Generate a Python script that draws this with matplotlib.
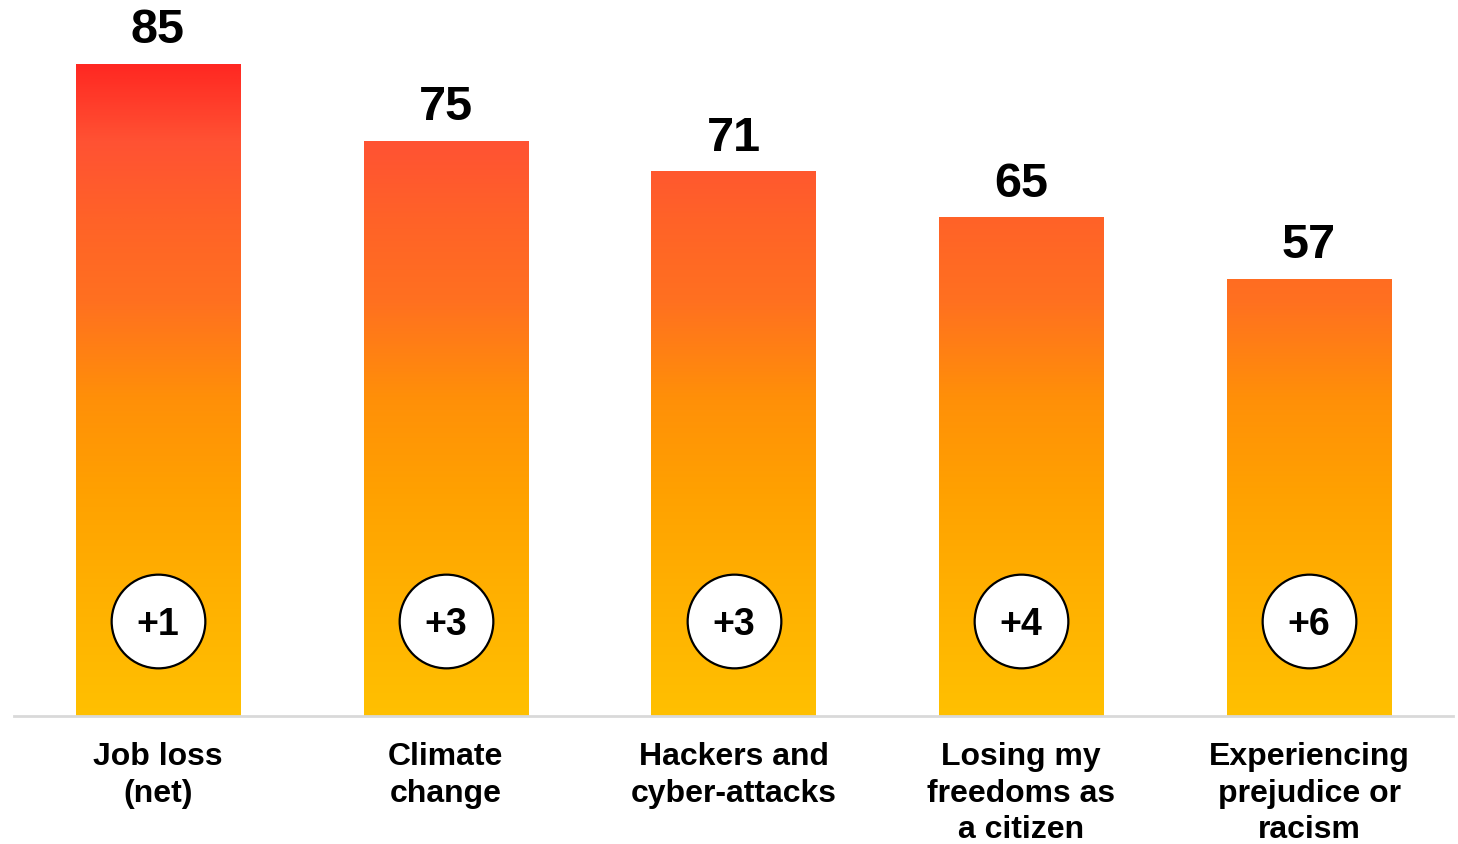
import numpy as np
import matplotlib.pyplot as plt
from matplotlib.colors import LinearSegmentedColormap

plt.rcParams['font.family'] = ['Liberation Sans', 'DejaVu Sans']

categories = ["Job loss\n(net)", "Climate\nchange", "Hackers and\ncyber-attacks",
              "Losing my\nfreedoms as\na citizen", "Experiencing\nprejudice or\nracism"]
values = [85, 75, 71, 65, 57]
changes = ["+1", "+3", "+3", "+4", "+6"]

# gradient stops (data value, colour)
grad_stops = [(0, "#FFC000"), (17.7, "#FFAE00"), (28.2, "#FFA200"), (41.2, "#FF9008"),
              (54.2, "#FF7020"), (65, "#FF6228"), (75, "#FF5233"), (85, "#FF2822")]
top = grad_stops[-1][0]
cmap = LinearSegmentedColormap.from_list("grad", [(v / top, c) for v, c in grad_stops])

fig = plt.figure(figsize=(14.58, 8.44), dpi=100)
ax = fig.add_axes([14 / 1458, 128 / 844, 1439 / 1458, 716 / 844])

x = np.arange(len(values))
width = 0.57
bars = ax.bar(x, values, width, color="none", edgecolor="none", zorder=2)

grad = np.linspace(0, 1, 512).reshape(-1, 1)
for b in bars:
    x0 = b.get_x()
    im = ax.imshow(grad, cmap=cmap, origin="lower", aspect="auto",
                   extent=[x0, x0 + b.get_width(), 0, top], zorder=1,
                   interpolation="bilinear")
    im.set_clip_path(b)

for xi, v in zip(x, values):
    ax.text(xi, v + 1.4, str(v), ha="center", va="bottom", fontsize=35,
            fontweight="bold", color="black")

circle_y = 12.4
ax.scatter(x, [circle_y] * len(x), s=4550, facecolor="white", edgecolor="black",
           linewidth=1.6, zorder=3)
for xi, c in zip(x, changes):
    ax.text(xi, circle_y, c, ha="center", va="center_baseline", fontsize=27,
            fontweight="bold", color="black", zorder=4)

ax.set_xlim(-0.5, len(values) - 0.5)
ax.set_ylim(0, 716 / 7.67)
ax.set_xticks(x)
ax.set_xticklabels(categories, fontsize=23, fontweight="bold", linespacing=1.27)
ax.tick_params(axis="x", length=0, pad=19)
ax.set_yticks([])
for s in ["top", "right", "left"]:
    ax.spines[s].set_visible(False)
ax.spines["bottom"].set_color("#D9D9D9")
ax.spines["bottom"].set_linewidth(2)
ax.patch.set_alpha(0)

fig.savefig("out.png", dpi=100)
